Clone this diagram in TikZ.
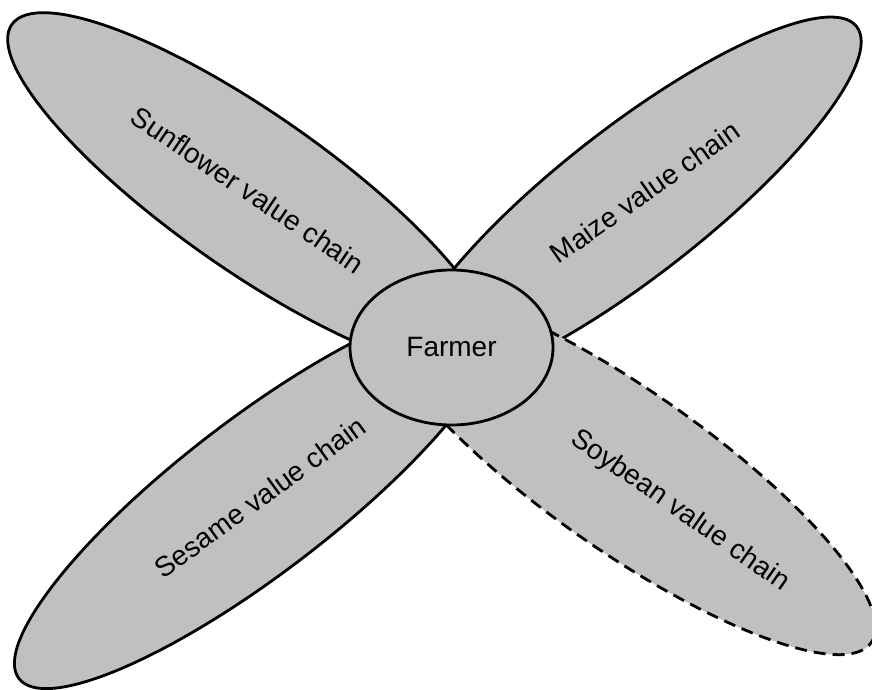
\documentclass[tikz,border=0pt]{standalone}
\usepackage{fontspec}
\setmainfont{Liberation Sans}
\usetikzlibrary{shapes.geometric}
\definecolor{petalgray}{HTML}{C0C0C0}

\begin{document}
\begin{tikzpicture}[x=1pt,y=-1pt,
  petal/.style={ellipse,draw,line width=2.8pt,fill=petalgray,inner sep=0pt},
  chainlabel/.style={font=\fontsize{28}{34}\selectfont,inner sep=0pt}]
\useasboundingbox (0,0) rectangle (872,690);
% petals
\node[petal,minimum width=584pt,minimum height=156pt,rotate=-35] (sunflower) at (251,192) {};
\node[petal,minimum width=570pt,minimum height=148pt,rotate=38] (maize) at (632,202) {};
\node[petal,minimum width=600pt,minimum height=154pt,rotate=37.5] (sesame) at (257,496) {};
\node[petal,dash pattern=on 12pt off 7pt,minimum width=600pt,minimum height=160pt,rotate=-35] (soybean) at (625.5,470.5) {};
% centre
\node[petal,minimum width=203pt,minimum height=155pt,font=\fontsize{28}{34}\selectfont] (farmer) at (451.5,347.5) {Farmer};
% labels
\node[chainlabel,rotate=-34] (sunflowertxt) at (248,190) {Sunflower value chain};
\node[chainlabel,rotate=35] (maizetxt) at (645,192) {Maize value chain};
\node[chainlabel,rotate=36] (sesametxt) at (260,497) {Sesame value chain};
\node[chainlabel,rotate=-35] (soybeantxt) at (680,511) {Soybean value chain};
\end{tikzpicture}
\end{document}
